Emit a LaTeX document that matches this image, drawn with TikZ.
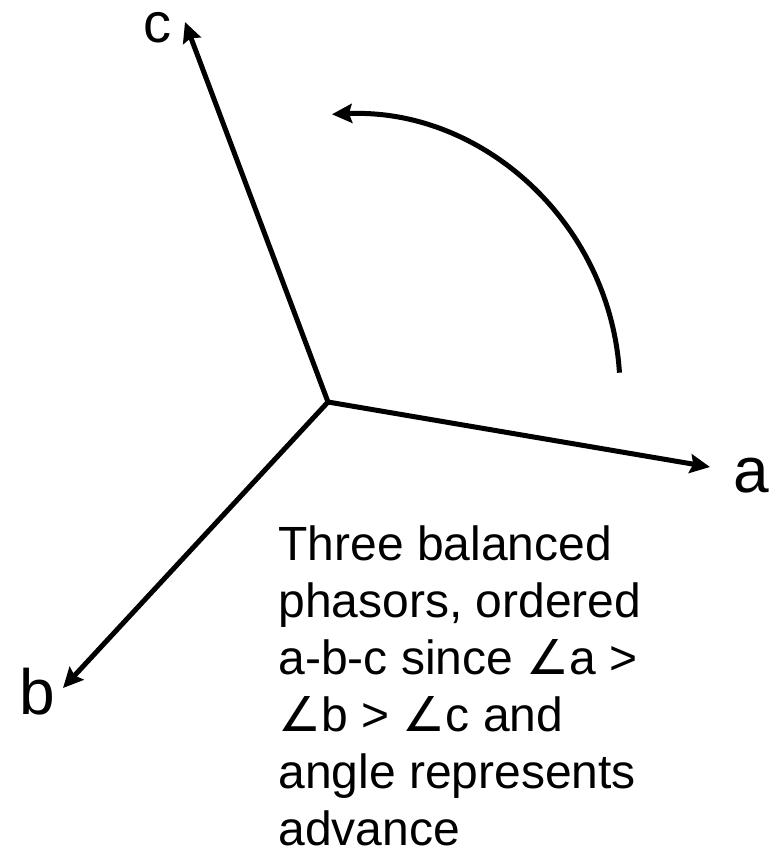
\documentclass[tikz,border=0pt]{standalone}
\usepackage{fontspec}
\setmainfont{Liberation Sans}
\newfontfamily\anglefont{DejaVu Sans}
\usepackage{tikz}
\usetikzlibrary{arrows.meta,positioning,calc}
\newcommand{\angl}{{\anglefont\symbol{"2220}}}
\tikzset{
  phasorline/.style={-{Stealth[length=10pt,width=9.5pt,inset=1.5pt]}, line width=2.5pt},
  phasorlabel/.style={font=\fontsize{32}{38}\selectfont, inner sep=0pt, anchor=base},
  phasornote/.style={font=\fontsize{24}{28.5}\selectfont, align=left, inner sep=0pt, anchor=north west}
}

\begin{document}
\begin{tikzpicture}[x=0.5pt, y=-0.5pt]
\useasboundingbox (0,0) rectangle (771,851);
% phasors from a common origin
\coordinate (origin) at (328,402);
\coordinate (tipa) at (710,467);
\coordinate (tipb) at (63,688);
\coordinate (tipc) at (185,22);
\draw[phasorline] (origin) -- (tipa);
\draw[phasorline] (origin) -- (tipb);
\draw[phasorline] (origin) -- (tipc);
\node[phasorlabel] (labela) at (751,492) {a};
\node[phasorlabel] (labelb) at (37,714) {b};
\node[phasorlabel, font=\fontsize{28}{34}\selectfont] (labelc) at (157,42) {c};

% sense of rotation
\coordinate (arccentre) at (344,390);
\draw[phasorline] ($(arccentre)+(-3.6:276)$) arc[start angle=-3.6, end angle=-92.5, radius=276];

% note
\node[phasornote] (note) at (278,525)
{Three balanced\\
phasors, ordered\\
a-b-c since \angl a >\\
\angl b > \angl c and\\
angle represents\\
advance};
\end{tikzpicture}
\end{document}
